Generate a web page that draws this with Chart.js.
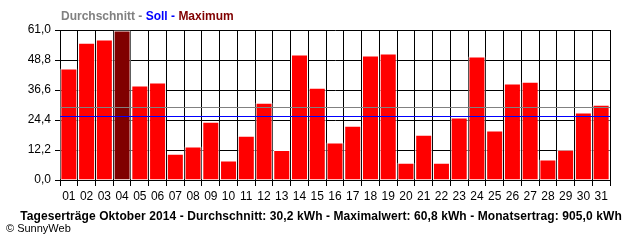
<!DOCTYPE html>
<html>
<head>
<meta charset="utf-8">
<script src="https://cdn.jsdelivr.net/npm/chart.js@4"></script>
<style>
  html, body { margin: 0; padding: 0; background: #fff; }
  #wrap { position: relative; width: 640px; height: 240px; overflow: hidden; }
  #c { position: absolute; left: 0; top: 0; }
  .txt { position: absolute; white-space: nowrap; font-family: "Liberation Sans", Arial, sans-serif; }
  #title { left: 61px; top: 9px; font-size: 12px; font-weight: bold; line-height: 14px; }
  #footer { left: 0; width: 642px; text-align: center; top: 209px; font-size: 12px; font-weight: bold; line-height: 14px; letter-spacing: 0.09px; }
  #copy { left: 6px; top: 222px; font-size: 11px; line-height: 13px; color: #000; }
</style>
</head>
<body>
<div id="wrap">
  <canvas id="c" width="640" height="240"></canvas>
  <div id="title" class="txt"><span style="color:#808080">Durchschnitt -</span> <span style="color:#0000FF">Soll -</span> <span style="color:#800000">Maximum</span></div>
  <div id="footer" class="txt">Tageserträge Oktober 2014 - Durchschnitt: 30,2 kWh - Maximalwert: 60,8 kWh - Monatsertrag: 905,0 kWh</div>
  <div id="copy" class="txt">© SunnyWeb</div>
</div>
<script>
const days = ["01","02","03","04","05","06","07","08","09","10","11","12","13","14","15","16","17","18","19","20","21","22","23","24","25","26","27","28","29","30","31"];
const dailyYield = [45.3, 55.8, 57.1, 60.8, 38.4, 39.6, 10.7, 13.6, 23.7, 7.9, 18.0, 31.4, 12.2, 51.0, 37.5, 15.2, 22.1, 50.6, 51.4, 7.0, 18.4, 7.0, 25.4, 50.2, 20.1, 39.2, 40.0, 8.3, 12.3, 27.4, 30.6];
const averageValue = 29.7;
const targetValue = 26.0;
const yTicks = [0, 12.2, 24.4, 36.6, 48.8, 61.0];

const maxVal = Math.max(...dailyYield);
const barColors = dailyYield.map(v => v === maxVal ? '#800000' : '#FF0000');

const refLines = {
  id: 'refLines',
  afterDatasetsDraw(chart) {
    const { ctx, chartArea, scales } = chart;
    const lines = [[averageValue, '#808080'], [targetValue, '#0000FF']];
    ctx.save();
    ctx.lineWidth = 1;
    for (const [v, col] of lines) {
      const y = Math.round(scales.y.getPixelForValue(v)) + 0.5;
      ctx.strokeStyle = col;
      ctx.beginPath();
      ctx.moveTo(chartArea.left, y);
      ctx.lineTo(chartArea.right, y);
      ctx.stroke();
    }
    const yb = Math.round(scales.y.getPixelForValue(0)) + 0.5;
    ctx.strokeStyle = '#000';
    ctx.beginPath();
    ctx.moveTo(chartArea.left, yb);
    ctx.lineTo(chartArea.right, yb);
    ctx.stroke();
    ctx.restore();
  }
};

new Chart(document.getElementById('c'), {
  type: 'bar',
  data: {
    labels: days,
    datasets: [{
      data: dailyYield,
      backgroundColor: barColors,
      borderColor: '#FFFFFF',
      borderWidth: 1,
      borderSkipped: 'start',
      barPercentage: 0.96,
      categoryPercentage: 1.0
    }]
  },
  options: {
    responsive: false,
    animation: false,
    devicePixelRatio: 1,
    layout: { padding: { top: 30, right: 30, left: 0, bottom: 0 } },
    plugins: { legend: { display: false }, tooltip: { enabled: false }, title: { display: false } },
    scales: {
      x: {
        offset: true,
        grid: { offset: true, color: '#000', lineWidth: 1, tickLength: 6, drawTicks: true },
        border: { color: '#000', width: 1 },
        ticks: { color: '#000', font: { family: 'Liberation Sans', size: 12 }, padding: 3, maxRotation: 0, autoSkip: false },
        afterFit(scale) { scale.height = 60; }
      },
      y: {
        min: 0,
        max: 61,
        afterBuildTicks(scale) { scale.ticks = yTicks.map(v => ({ value: v })); },
        grid: { color: '#000', lineWidth: 1, tickLength: 5, drawTicks: true },
        border: { color: '#000', width: 1 },
        ticks: {
          color: '#000',
          font: { family: 'Liberation Sans', size: 12 },
          padding: 4,
          callback: v => Number(v).toFixed(1).replace('.', ',')
        },
        afterFit(scale) { scale.width = 60; }
      }
    }
  },
  plugins: [refLines]
});
</script>
</body>
</html>
